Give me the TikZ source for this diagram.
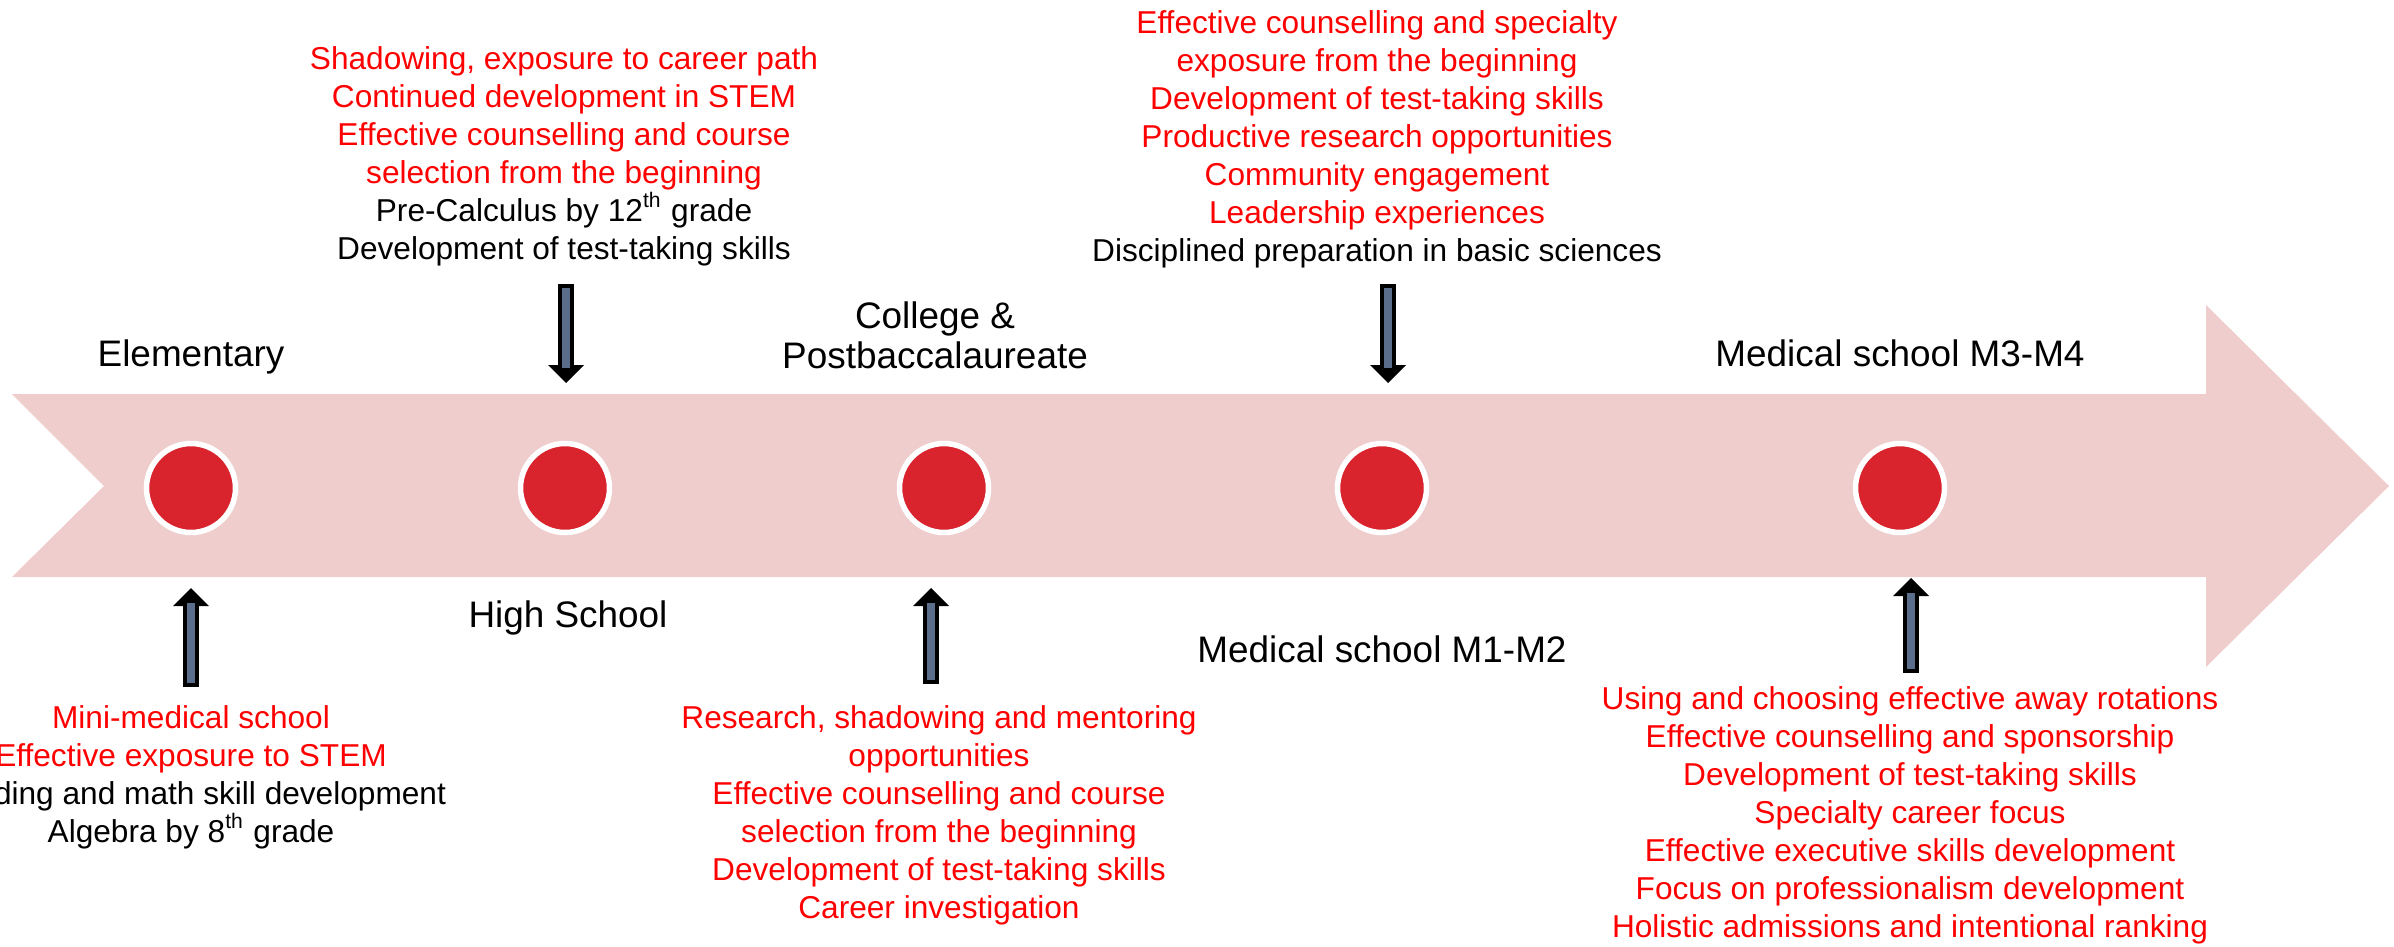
\documentclass[tikz,border=0pt]{standalone}
\usepackage{fontspec}
\setmainfont{Liberation Sans}
\usetikzlibrary{arrows.meta}

\begin{document}
\begin{tikzpicture}[x=0.1mm, y=-0.1mm,
    note/.style={align=center, inner sep=0pt, text=keyred, font=\fontsize{9}{10.8}\selectfont},
    stage/.style={align=center, inner sep=0pt, font=\fontsize{10.5}{11.4}\selectfont},
    dot/.style={circle, fill=dotred, draw=white, line width=0.55mm, minimum size=8.9mm, inner sep=0pt},
    blockarrow/.style={draw=black, line width=1.55mm, -{Triangle[width=3.6mm, length=1.8mm, line width=0pt]},
      postaction={draw=shaft, line width=0.75mm, shorten <=0.4mm, shorten >=1.5mm, -}}]
  % Define colors
  \definecolor{bandpink}{RGB}{240,205,205}
  \definecolor{dotred}{RGB}{217,35,45}
  \definecolor{keyred}{RGB}{255,0,0}
  \definecolor{shaft}{RGB}{90,110,140}

  \useasboundingbox (0,0) rectangle (2394,946);

  % Timeline band with notched tail and arrow head
  \fill[bandpink] (12,394) -- (2206,394) -- (2206,305) -- (2389,486) -- (2206,667)
    -- (2206,577) -- (12,577) -- (104,486) -- cycle;

  % Stage markers
  \node[dot] (dot1) at (191,488) {};
  \node[dot] (dot2) at (565,488) {};
  \node[dot] (dot3) at (944,488) {};
  \node[dot] (dot4) at (1382,488) {};
  \node[dot] (dot5) at (1900,488) {};

  % Stage names
  \node[stage] (elem) at (191,357) {Elementary};
  \node[stage] (high) at (568,618) {High School};
  \node[stage] (coll) at (935,335) {College \&\\Postbaccalaureate};
  \node[stage] (med12) at (1382,649) {Medical school M1-M2};
  \node[stage] (med34) at (1900,353) {Medical school M3-M4};

  % Notes above the band
  \node[note] (hsnote) at (564,156) {Shadowing, exposure to career path\\
    Continued development in STEM\\
    Effective counselling and course\\
    selection from the beginning\\
    \textcolor{black}{Pre-Calculus by 12\textsuperscript{th} grade}\\
    \textcolor{black}{Development of test-taking skills}};
  \node[note] (m12note) at (1377,139) {Effective counselling and specialty\\
    exposure from the beginning\\
    Development of test-taking skills\\
    Productive research opportunities\\
    Community engagement\\
    Leadership experiences\\
    \textcolor{black}{Disciplined preparation in basic sciences}};

  % Notes below the band
  \node[note] (elnote) at (191,777) {Mini-medical school\\
    Effective exposure to STEM\\
    \textcolor{black}{Reading and math skill development}\\
    \textcolor{black}{Algebra by 8\textsuperscript{th} grade}};
  \node[note] (colnote) at (939,815) {Research, shadowing and mentoring\\
    opportunities\\
    Effective counselling and course\\
    selection from the beginning\\
    Development of test-taking skills\\
    Career investigation};
  \node[note] (m34note) at (1910,815) {Using and choosing effective away rotations\\
    Effective counselling and sponsorship\\
    Development of test-taking skills\\
    Specialty career focus\\
    Effective executive skills development\\
    Focus on professionalism development\\
    Holistic admissions and intentional ranking};

  % Arrow ends at the band
  \coordinate (elTail) at (191,687);   \coordinate (elTip) at (191,588);
  \coordinate (hsTail) at (566,284);   \coordinate (hsTip) at (566,383);
  \coordinate (colTail) at (931,684);  \coordinate (colTip) at (931,588);
  \coordinate (m12Tail) at (1388,284); \coordinate (m12Tip) at (1388,383);
  \coordinate (m34Tail) at (1911,673); \coordinate (m34Tip) at (1911,578);

  % Block arrows pointing at the band
  \draw[blockarrow] (elTail) -- (elTip);
  \draw[blockarrow] (hsTail) -- (hsTip);
  \draw[blockarrow] (colTail) -- (colTip);
  \draw[blockarrow] (m12Tail) -- (m12Tip);
  \draw[blockarrow] (m34Tail) -- (m34Tip);
\end{tikzpicture}
\end{document}
